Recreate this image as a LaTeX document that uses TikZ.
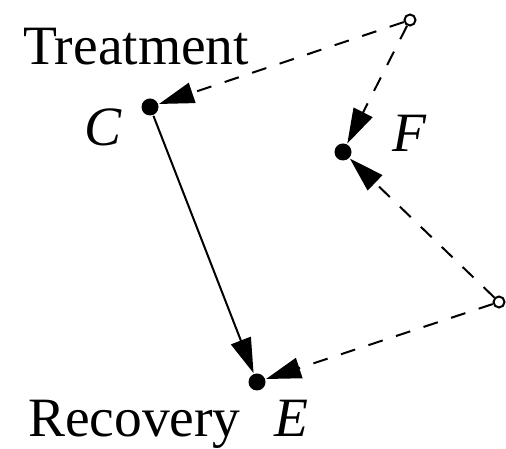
\documentclass[tikz,border=0pt]{standalone}
\usepackage{fontspec}
\setmainfont{Liberation Serif}
\usetikzlibrary{arrows.meta,positioning}
\tikzset{
	dot/.style={circle,fill,inner sep=0pt,minimum size=3.4pt},
	hollow/.style={circle,draw,fill=white,inner sep=0pt,minimum size=2.2pt,line width=0.4pt},
	link/.style={line width=0.4pt,-{Triangle[length=7pt,width=4.2pt]}},
	hidden/.style={link,dash pattern=on 3pt off 2.8pt},
	lbl/.style={font=\rmfamily\fontsize{11.1}{13}\selectfont,inner sep=0pt}
}
\begin{document}
\begin{tikzpicture}[x=0.2pt,y=-0.2pt]
	\useasboundingbox (0,0) rectangle (506,449);
	
	\node[dot] (C) at (150,107) {};
	\node[dot] (F) at (343,152) {};
	\node[dot] (E) at (257,382) {};
	\node[hollow] (U1) at (410,20) {};
	\node[hollow] (U2) at (499,302) {};
	
	\draw[link] (C) -- (E);
	\draw[hidden] (U1) -- (C);
	\draw[hidden] (U1) -- (F);
	\draw[hidden] (U2) -- (F);
	\draw[hidden] (U2) -- (E);
	
	\node[lbl,anchor=base west] (treat) at (22,65) {Treatment};
	\node[lbl,anchor=base west] (recov) at (27,437) {Recovery};
	\node[lbl,anchor=base west] (labC) at (83,146) {\textit{C}};
	\node[lbl,anchor=base west] (labF) at (391,152) {\textit{F}};
	\node[lbl,anchor=base west] (labE) at (273,437) {\textit{E}};
\end{tikzpicture}
\end{document}
